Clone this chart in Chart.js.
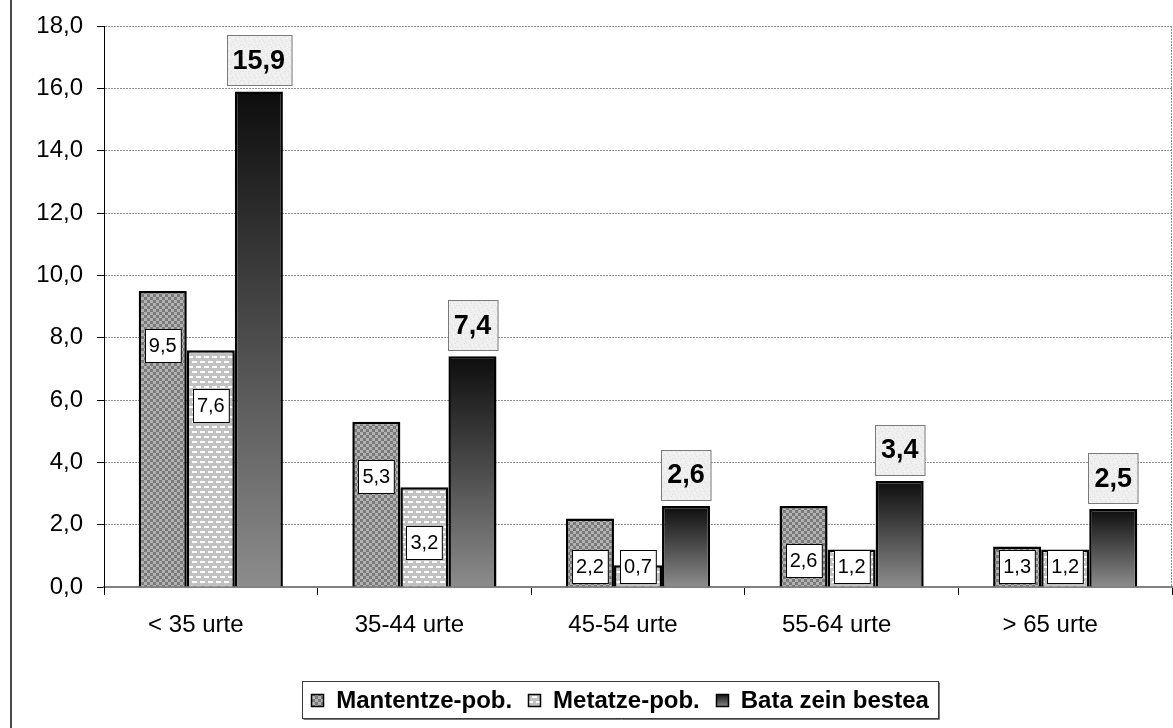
<!DOCTYPE html>
<html>
<head>
<meta charset="utf-8">
<script src="https://cdn.jsdelivr.net/npm/chart.js@4/dist/chart.umd.min.js"></script>
<style>
html,body{margin:0;padding:0;background:#fff;}
#wrap{width:1173px;height:728px;position:relative;}
</style>
</head>
<body>
<div id="wrap"><canvas id="c" width="1173" height="728"></canvas></div>
<script>
// ---- data ----
const categories = ['< 35 urte', '35-44 urte', '45-54 urte', '55-64 urte', '> 65 urte'];
const seriesNames = ['Mantentze-pob.', 'Metatze-pob.', 'Bata zein bestea'];
const mantentze = [9.5, 5.3, 2.2, 2.6, 1.3];
const metatze = [7.6, 3.2, 0.7, 1.2, 1.2];
const bataZeinBestea = [15.9, 7.4, 2.6, 3.4, 2.5];
const yTicks = [0, 2, 4, 6, 8, 10, 12, 14, 16, 18];

const FONT = '"Liberation Sans", Arial, sans-serif';
const fmt = v => v.toFixed(1).replace('.', ',');

// ---- fills ----
function checkerPattern() {
  const c = document.createElement('canvas'); c.width = 6; c.height = 6;
  const g = c.getContext('2d');
  g.fillStyle = '#7a7a7a'; g.fillRect(0, 0, 6, 6);
  g.fillStyle = '#b2b2b2'; g.fillRect(0, 0, 3, 3); g.fillRect(3, 3, 3, 3);
  return g.createPattern(c, 'repeat');
}
function dashPattern() {
  const c = document.createElement('canvas'); c.width = 8; c.height = 10;
  const g = c.getContext('2d');
  g.fillStyle = '#c2c2c2'; g.fillRect(0, 0, 8, 10);
  g.fillStyle = '#ffffff';
  g.fillRect(0, 1, 5, 2);
  g.fillRect(4, 6, 4, 2); g.fillRect(0, 6, 1, 2);
  return g.createPattern(c, 'repeat');
}
function speckPattern() {
  const c = document.createElement('canvas'); c.width = 9; c.height = 9;
  const g = c.getContext('2d');
  g.fillStyle = '#efefef'; g.fillRect(0, 0, 9, 9);
  g.fillStyle = '#e0e0e0';
  [[1,2],[5,1],[3,6],[7,5],[0,8],[6,8],[2,4]].forEach(p => g.fillRect(p[0], p[1], 1, 1));
  g.fillStyle = '#f8f8f8';
  [[4,3],[8,2],[1,7]].forEach(p => g.fillRect(p[0], p[1], 1, 1));
  return g.createPattern(c, 'repeat');
}
const fillChecker = checkerPattern();
const fillDash = dashPattern();
const fillSpeck = speckPattern();

function barGradient(ctx) {
  const ch = ctx.chart, y = ch.scales && ch.scales.y;
  if (!y || ctx.raw == null) return '#4a4a4a';
  const top = y.getPixelForValue(ctx.raw), base = y.getPixelForValue(0);
  if (!isFinite(top) || !isFinite(base) || top === base) return '#4a4a4a';
  const g = ch.ctx.createLinearGradient(0, top, 0, base);
  g.addColorStop(0, '#0d0d0d');
  g.addColorStop(1, '#8c8c8c');
  return g;
}

// ---- plugin: frame, labels, legend ----
const decor = {
  id: 'decor',
  beforeDraw(chart) {
    const c = chart.ctx;
    c.save();
    c.fillStyle = '#fff';
    c.fillRect(0, 0, chart.width, chart.height);
    c.restore();
  },
  afterDraw(chart) {
    const c = chart.ctx, a = chart.chartArea;
    c.save();
    // dotted right border of plot area
    c.strokeStyle = '#8a8a8a'; c.lineWidth = 1; c.setLineDash([2, 1]);
    c.beginPath(); c.moveTo(a.right - 0.5, a.top); c.lineTo(a.right - 0.5, a.bottom); c.stroke();
    c.setLineDash([]);
    // outer chart frame (left edge)
    c.strokeStyle = '#4a4a4a'; c.lineWidth = 2;
    c.beginPath(); c.moveTo(11, 0); c.lineTo(11, chart.height); c.stroke();

    // data labels
    c.textAlign = 'center'; c.textBaseline = 'middle';
    chart.data.datasets.forEach((ds, di) => {
      const meta = chart.getDatasetMeta(di);
      meta.data.forEach((el, i) => {
        const v = ds.data[i];
        const txt = fmt(v);
        if (di < 2) {
          c.font = '20px ' + FONT;
          const w = c.measureText(txt).width + 8, h = 33;
          const cy = Math.min(el.y + 55, el.base - 20);
          const x0 = Math.round(el.x - w / 2) + 0.5, y0 = Math.round(cy - h / 2) + 0.5;
          c.fillStyle = '#fff'; c.fillRect(x0, y0, w, h);
          c.strokeStyle = '#000'; c.lineWidth = 1; c.strokeRect(x0, y0, w, h);
          c.fillStyle = '#000'; c.fillText(txt, el.x, cy + 1);
        } else {
          c.font = 'bold 27px ' + FONT;
          const w = c.measureText(txt).width + 12, h = 50;
          const bottom = el.y - 6;
          const x0 = Math.round(el.x - w / 2) + 0.5, y0 = Math.round(bottom - h) + 0.5;
          c.fillStyle = fillSpeck; c.fillRect(x0, y0, w, h);
          c.strokeStyle = '#7a7a7a'; c.lineWidth = 1; c.strokeRect(x0, y0, w, h);
          c.fillStyle = '#000'; c.fillText(txt, el.x, bottom - h / 2 + 1);
        }
      });
    });

    // legend
    c.font = 'bold 24px ' + FONT;
    const fills = [fillChecker, fillDash, null];
    const mk = 13, gapMT = 12, gapItem = 16;
    const widths = seriesNames.map(s => c.measureText(s).width);
    let total = 0;
    widths.forEach((w, i) => { total += mk + gapMT + w + (i < widths.length - 1 ? gapItem : 0); });
    const cx = 620, cy = 700;
    const boxL = Math.round(cx - total / 2 - 9) + 0.5, boxW = Math.round(total + 18), boxT = 681.5, boxH = 37;
    c.fillStyle = '#fff'; c.fillRect(boxL, boxT, boxW, boxH);
    c.strokeStyle = '#3a3a3a'; c.lineWidth = 1; c.strokeRect(boxL, boxT, boxW, boxH);
    c.strokeStyle = '#777'; c.beginPath(); c.moveTo(boxL + 1, boxT + boxH + 1); c.lineTo(boxL + boxW + 1, boxT + boxH + 1); c.lineTo(boxL + boxW + 1, boxT + 1); c.stroke();
    let x = cx - total / 2;
    c.textAlign = 'left'; c.textBaseline = 'middle';
    seriesNames.forEach((s, i) => {
      const mx = Math.round(x), my = Math.round(cy - mk / 2);
      if (fills[i]) { c.fillStyle = fills[i]; }
      else { const g = c.createLinearGradient(0, my, 0, my + mk); g.addColorStop(0, '#111'); g.addColorStop(1, '#8c8c8c'); c.fillStyle = g; }
      c.fillRect(mx, my, mk, mk);
      c.strokeStyle = '#000'; c.lineWidth = 1.5; c.strokeRect(mx + 0.5, my + 0.5, mk - 1, mk - 1);
      c.fillStyle = '#000';
      c.fillText(s, x + mk + gapMT, cy + 1);
      x += mk + gapMT + widths[i] + gapItem;
    });
    c.restore();
  }
};

new Chart(document.getElementById('c'), {
  type: 'bar',
  data: {
    labels: categories,
    datasets: [
      { label: seriesNames[0], data: mantentze, backgroundColor: fillChecker, borderColor: '#000', borderWidth: 2.5 },
      { label: seriesNames[1], data: metatze, backgroundColor: fillDash, borderColor: '#000', borderWidth: 2.5 },
      { label: seriesNames[2], data: bataZeinBestea, backgroundColor: barGradient, borderColor: '#000', borderWidth: 2.5 }
    ]
  },
  options: {
    responsive: false,
    devicePixelRatio: 1,
    animation: false,
    events: [],
    layout: { padding: { left: 0, top: 26, right: 1, bottom: 81 } },
    datasets: { bar: { categoryPercentage: 0.675, barPercentage: 1.0 } },
    plugins: { legend: { display: false }, tooltip: { enabled: false }, title: { display: false } },
    scales: {
      x: {
        offset: true,
        grid: { display: true, drawOnChartArea: false, drawTicks: true, tickLength: 8, tickColor: '#000', tickWidth: 1 },
        border: { display: true, color: '#808080', width: 2 },
        ticks: { color: '#000', font: { family: FONT, size: 24 }, padding: 16, labelOffset: -15, maxRotation: 0, autoSkip: false },
        afterFit(s) { s.height = 60; s.paddingLeft = 0; s.paddingRight = 0; }
      },
      y: {
        min: 0, max: 18,
        afterBuildTicks(s) { s.ticks = yTicks.map(v => ({ value: v })); },
        grid: { color: '#8f8f8f', lineWidth: 1, drawTicks: true, tickLength: 7, tickColor: '#000', tickWidth: 1, tickBorderDash: [] },
        border: { display: true, color: '#000', width: 1, dash: [2, 1] },
        ticks: { color: '#000', font: { family: FONT, size: 24 }, padding: 14, callback: v => fmt(v) },
        afterFit(s) { s.width = 104; s.paddingTop = 0; s.paddingBottom = 0; }
      }
    }
  },
  plugins: [decor]
});
</script>
</body>
</html>
